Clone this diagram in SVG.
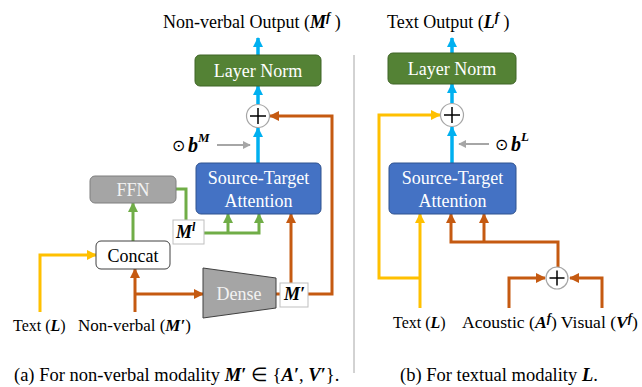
<svg xmlns="http://www.w3.org/2000/svg" width="642" height="387" viewBox="0 0 642 387">
  <style>
    text { font-family: "Liberation Serif", "Times New Roman", serif; fill: #000; }
    .lbl { font-size: 18px; }
    .cap { font-size: 18.5px; }
    .small { font-size: 16px; }
    .ctr { text-anchor: middle; }
    .wt { fill: #ffffff; }
    .m { font-weight: bold; font-style: italic; }
    .ln { fill: #548235; stroke: #3f6427; stroke-width: 1; }
    .att { fill: #4472c4; stroke: #2f528f; stroke-width: 1; }
    .ffn { fill: #a5a5a5; stroke: #7f7f7f; stroke-width: 1; }
    .box { fill: #ffffff; stroke: #404040; stroke-width: 1; }
    .tag { fill: #ffffff; stroke: #bfbfbf; stroke-width: 1; }
    .dense { fill: #a5a5a5; stroke: #404040; stroke-width: 1; }
    .sum { fill: #ffffff; stroke: #a6a6a6; stroke-width: 1.2; }
    .cross { stroke: #000; stroke-width: 1.5; fill: none; }
    .blue { stroke: #00b0f0; stroke-width: 3.5; fill: none; }
    .orange { stroke: #c55a11; stroke-width: 3; fill: none; }
    .green { stroke: #70ad47; stroke-width: 3; fill: none; }
    .yellow { stroke: #ffc000; stroke-width: 3; fill: none; }
    .grey { stroke: #a6a6a6; stroke-width: 2; fill: none; }
  </style>
  <defs>
    <marker id="ah-blue" viewBox="0 0 10 10" refX="9" refY="5" markerWidth="10" markerHeight="10" markerUnits="userSpaceOnUse" orient="auto">
      <path d="M0,0 L10,5 L0,10 z" fill="#00b0f0"/>
    </marker>
    <marker id="ah-orange" viewBox="0 0 10 10" refX="9" refY="5" markerWidth="10" markerHeight="10" markerUnits="userSpaceOnUse" orient="auto">
      <path d="M0,0 L10,5 L0,10 z" fill="#c55a11"/>
    </marker>
    <marker id="ah-green" viewBox="0 0 10 10" refX="9" refY="5" markerWidth="10" markerHeight="10" markerUnits="userSpaceOnUse" orient="auto">
      <path d="M0,0 L10,5 L0,10 z" fill="#70ad47"/>
    </marker>
    <marker id="ah-yellow" viewBox="0 0 10 10" refX="9" refY="5" markerWidth="10" markerHeight="10" markerUnits="userSpaceOnUse" orient="auto">
      <path d="M0,0 L10,5 L0,10 z" fill="#ffc000"/>
    </marker>
    <marker id="ah-grey" viewBox="0 0 10 10" refX="9" refY="5" markerWidth="8" markerHeight="8" markerUnits="userSpaceOnUse" orient="auto">
      <path d="M0,0 L10,5 L0,10 z" fill="#a6a6a6"/>
    </marker>
  </defs>

  <!-- divider between the two panels -->
  <line x1="354" y1="55" x2="354" y2="373" stroke="#a6a6a6" stroke-width="1"/>

  <!-- connectors -->
  <g id="connectors">
    <!-- panel (a) -->
    <path class="blue" d="M258,55 V38" marker-end="url(#ah-blue)"/>
    <path class="blue" d="M258,104 V86" marker-end="url(#ah-blue)"/>
    <path class="blue" d="M258,163 V128" marker-end="url(#ah-blue)"/>
    <path class="grey" d="M217,145 H250" marker-end="url(#ah-grey)"/>
    <path class="orange" d="M308,294 H332 V116 H270" marker-end="url(#ah-orange)"/>
    <path class="orange" d="M276,294 H280"/>
    <path class="orange" d="M291,283 V214" marker-end="url(#ah-orange)"/>
    <path class="orange" d="M135,312 V269" marker-end="url(#ah-orange)"/>
    <path class="orange" d="M135,294 H203" marker-end="url(#ah-orange)"/>
    <path class="yellow" d="M40,312 V255 H96" marker-end="url(#ah-yellow)"/>
    <path class="green" d="M133,241 V203" marker-end="url(#ah-green)"/>
    <path class="green" d="M176,189 H186 V220"/>
    <path class="green" d="M204,233 H259 V214" marker-end="url(#ah-green)"/>
    <path class="green" d="M228,233 V214" marker-end="url(#ah-green)"/>

    <!-- panel (b) -->
    <path class="blue" d="M452,53 V38" marker-end="url(#ah-blue)"/>
    <path class="blue" d="M452,103 V84" marker-end="url(#ah-blue)"/>
    <path class="blue" d="M452,163 V127" marker-end="url(#ah-blue)"/>
    <path class="grey" d="M489,144 H459" marker-end="url(#ah-grey)"/>
    <path class="yellow" d="M420,308 V214" marker-end="url(#ah-yellow)"/>
    <path class="yellow" d="M420,278 H379 V115 H440" marker-end="url(#ah-yellow)"/>
    <path class="orange" d="M558,267 V242 H451 V214" marker-end="url(#ah-orange)"/>
    <path class="orange" d="M484,242 V214" marker-end="url(#ah-orange)"/>
    <path class="orange" d="M509,308 V278 H545" marker-end="url(#ah-orange)"/>
    <path class="orange" d="M602,308 V278 H570" marker-end="url(#ah-orange)"/>
  </g>

  <!-- panel (a) nodes -->
  <g id="a-layernorm">
    <rect class="ln" x="195" y="55" width="126" height="31" rx="5"/>
    <text class="lbl ctr wt" x="258" y="77">Layer Norm</text>
  </g>
  <g id="a-sum">
    <circle class="sum" cx="258" cy="116" r="11.5"/>
    <path class="cross" d="M250,116 H266 M258,108 V124"/>
  </g>
  <g id="a-attention">
    <rect class="att" x="196" y="163" width="125" height="51" rx="5"/>
    <text class="lbl ctr wt" x="258.5" y="184">Source-Target</text>
    <text class="lbl ctr wt" x="258.5" y="207">Attention</text>
  </g>
  <g id="a-ffn">
    <rect class="ffn" x="90" y="176" width="86" height="27" rx="5"/>
    <text class="lbl ctr" x="133" y="196" style="fill:#f2f2f2">FFN</text>
  </g>
  <g id="a-concat">
    <rect class="box" x="96" y="241" width="74" height="28" rx="5"/>
    <text class="lbl ctr" x="133" y="262">Concat</text>
  </g>
  <g id="a-dense">
    <polygon class="dense" points="203,268 276,278 276,308 203,318"/>
    <text class="lbl ctr" x="239" y="300" style="fill:#f2f2f2">Dense</text>
  </g>
  <g id="a-ml">
    <rect class="tag" x="173" y="220" width="31" height="24"/>
    <text class="lbl m" x="176" y="238">M<tspan font-size="12" dy="-7">l</tspan></text>
  </g>
  <g id="a-mprime">
    <rect class="tag" x="280" y="283" width="28" height="24"/>
    <text class="lbl m" x="284" y="300">M′</text>
  </g>
  <g id="a-bias">
    <text class="small" x="172" y="151">⊙</text>
    <text class="m" x="188" y="152" font-size="20">b<tspan font-size="13" dy="-10">M</tspan></text>
  </g>

  <!-- panel (b) nodes -->
  <g id="b-layernorm">
    <rect class="ln" x="388" y="53" width="128" height="31" rx="5"/>
    <text class="lbl ctr wt" x="452" y="75">Layer Norm</text>
  </g>
  <g id="b-sum">
    <circle class="sum" cx="452" cy="115" r="11.5"/>
    <path class="cross" d="M444,115 H460 M452,107 V123"/>
  </g>
  <g id="b-attention">
    <rect class="att" x="389" y="163" width="127" height="51" rx="5"/>
    <text class="lbl ctr wt" x="452.5" y="184">Source-Target</text>
    <text class="lbl ctr wt" x="452.5" y="207">Attention</text>
  </g>
  <g id="b-sum2">
    <circle class="sum" cx="557" cy="278" r="11"/>
    <path class="cross" d="M549.5,278 H564.5 M557,270.5 V285.5"/>
  </g>
  <g id="b-bias">
    <text class="small" x="495" y="150">⊙</text>
    <text class="m" x="511" y="151" font-size="20">b<tspan font-size="13" dy="-10">L</tspan></text>
  </g>

  <!-- titles, inputs and captions -->
  <g id="labels">
    <text class="lbl" x="163" y="28">Non-verbal Output (<tspan class="m">M</tspan><tspan class="m" font-size="13" dy="-7">f</tspan><tspan dy="7"> )</tspan></text>
    <text class="lbl" x="387" y="28">Text Output (<tspan class="m">L</tspan><tspan class="m" font-size="13" dy="-7">f</tspan><tspan dy="7"> )</tspan></text>
    <text class="small" x="13" y="331">Text (<tspan class="m">L</tspan>)</text>
    <text x="78" y="331" font-size="17">Non-verbal (<tspan class="m">M′</tspan>)</text>
    <text class="small" x="393" y="328">Text (<tspan class="m">L</tspan>)</text>
    <text x="462" y="328" font-size="16.5" textLength="176" lengthAdjust="spacingAndGlyphs">Acoustic (<tspan class="m">A</tspan><tspan class="m" font-size="12" dy="-6">f</tspan><tspan dy="6">) Visual (</tspan><tspan class="m">V</tspan><tspan class="m" font-size="12" dy="-6">f</tspan><tspan dy="6">)</tspan></text>
    <text class="cap" x="14" y="381">(a) For non-verbal modality <tspan class="m">M′</tspan> ∈ {<tspan class="m">A′</tspan>, <tspan class="m">V′</tspan>}.</text>
    <text class="cap" x="400" y="381">(b) For textual modality <tspan class="m">L</tspan>.</text>
  </g>
</svg>
